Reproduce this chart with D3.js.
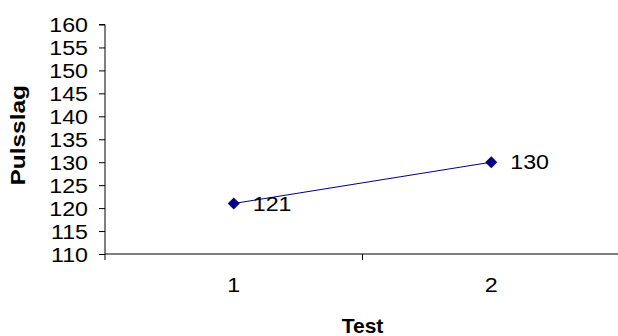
<!DOCTYPE html>
<html>
<head>
<meta charset="utf-8">
<script src="https://cdn.jsdelivr.net/npm/d3@7"></script>
<style>
  html, body { margin: 0; padding: 0; background: #fff; }
  svg { display: block; }
  text { font-family: "Liberation Sans", Arial, sans-serif; fill: #000; }
</style>
</head>
<body>
<svg id="chart" width="618" height="336"></svg>
<script>
// Data
const categories = ["1", "2"];
const pulse = [121, 130];
const yTicks = [110, 115, 120, 125, 130, 135, 140, 145, 150, 155, 160];
const yTitle = "Pulsslag";
const xTitle = "Test";

const svg = d3.select("#chart");
const margin = { left: 105, top: 24.5, right: -2, bottom: 82 };
const W = 618, H = 336;

const x = d3.scaleBand()
  .domain(categories)
  .range([margin.left, W - margin.right]);

const y = d3.scaleLinear()
  .domain([110, 160])
  .range([H - margin.bottom, margin.top]);

const fontSize = 20;
const wide = 1.16; // glyphs are drawn slightly wide

// widen text along its baseline
function widen(sel, factor) {
  sel.each(function () {
    const w = this.getComputedTextLength();
    d3.select(this)
      .attr("textLength", w * factor)
      .attr("lengthAdjust", "spacingAndGlyphs");
  });
}

// Y axis
const yAxis = svg.append("g")
  .attr("transform", `translate(${margin.left},0)`)
  .call(d3.axisLeft(y).tickValues(yTicks).tickSize(6).tickPadding(11).tickFormat(d3.format("d")));
yAxis.select(".domain").attr("d", `M-6,${y(160)}H0V${y(110) + 6}`);
yAxis.selectAll("text")
  .style("font-size", fontSize + "px")
  .attr("dy", "0.36em")
  .call(widen, wide);

// X axis with tick marks at category boundaries
const xAxisG = svg.append("g")
  .attr("transform", `translate(0,${y(110)})`);
xAxisG.append("line")
  .attr("x1", margin.left).attr("x2", W - margin.right)
  .attr("stroke", "#000").attr("stroke-width", 1);
const boundaries = categories.slice(1).map(c => x(c));
xAxisG.selectAll("line.tick")
  .data(boundaries)
  .join("line")
  .attr("class", "tick")
  .attr("x1", d => d).attr("x2", d => d)
  .attr("y1", 0).attr("y2", 6)
  .attr("stroke", "#000");
xAxisG.selectAll("text.cat")
  .data(categories)
  .join("text")
  .attr("class", "cat")
  .attr("x", d => x(d) + x.bandwidth() / 2)
  .attr("y", 38)
  .attr("text-anchor", "middle")
  .style("font-size", fontSize + "px")
  .text(d => d)
  .call(widen, wide);

svg.selectAll(".domain, .tick line").attr("stroke", "#000");

// Line
const pts = categories.map((c, i) => ({ c, v: pulse[i] }));
svg.append("path")
  .datum(pts)
  .attr("fill", "none")
  .attr("stroke", "#000080")
  .attr("stroke-width", 1)
  .attr("d", d3.line().x(d => x(d.c) + x.bandwidth() / 2).y(d => y(d.v)));

// Diamond markers
svg.selectAll("path.marker")
  .data(pts)
  .join("path")
  .attr("class", "marker")
  .attr("transform", d => `translate(${x(d.c) + x.bandwidth() / 2},${y(d.v)})`)
  .attr("d", "M0,-6L6,0L0,6L-6,0Z")
  .attr("fill", "#000080");

// Data labels
svg.selectAll("text.val")
  .data(pts)
  .join("text")
  .attr("class", "val")
  .attr("x", d => x(d.c) + x.bandwidth() / 2 + 19)
  .attr("y", d => y(d.v) + 7)
  .style("font-size", fontSize + "px")
  .text(d => d.v)
  .call(widen, wide);

// Axis titles
svg.append("text")
  .attr("transform", `translate(25,${(y(110) + y(160)) / 2 - 4}) rotate(-90)`)
  .attr("text-anchor", "middle")
  .style("font-size", "20px")
  .style("font-weight", "bold")
  .text(yTitle)
  .call(widen, 1.22);

svg.append("text")
  .attr("x", (margin.left + W - margin.right) / 2)
  .attr("y", 333)
  .attr("text-anchor", "middle")
  .style("font-size", "21px")
  .style("font-weight", "bold")
  .text(xTitle);
</script>
</body>
</html>
